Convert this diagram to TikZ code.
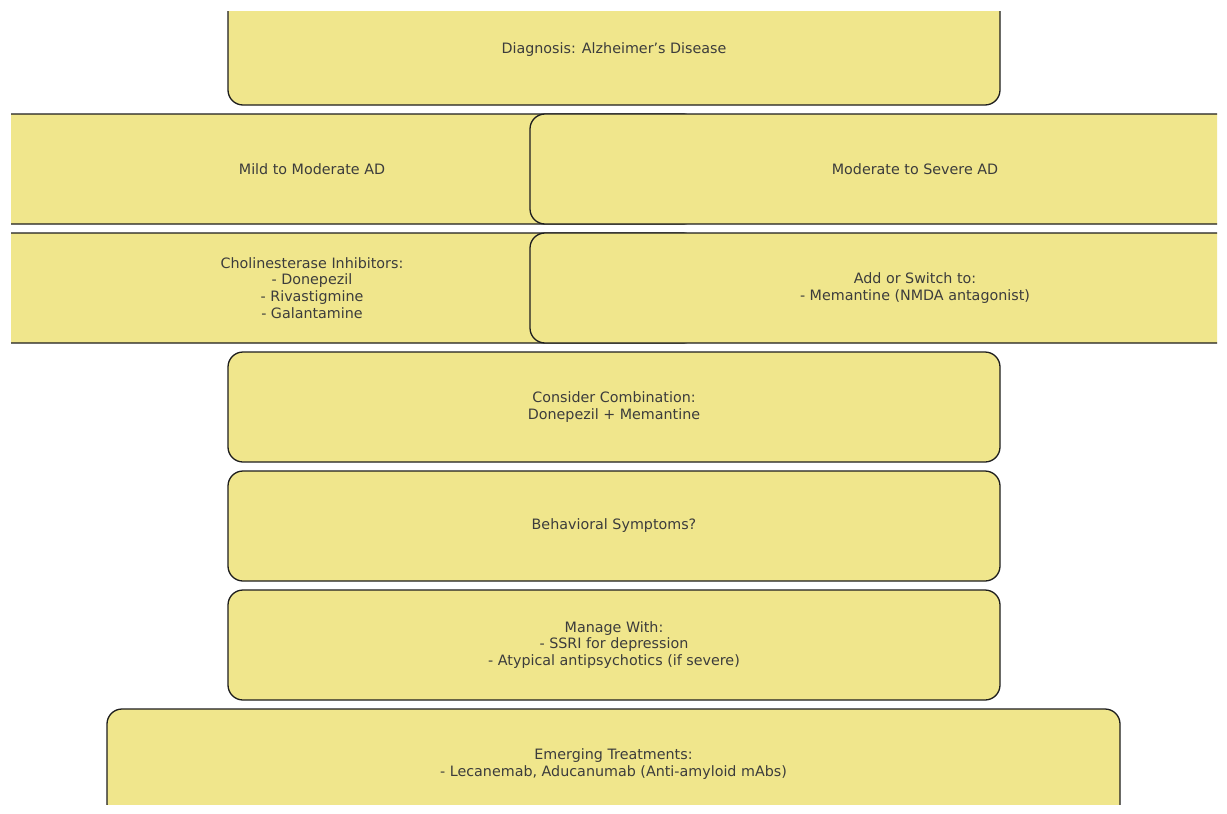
\documentclass[tikz,border=0pt]{standalone}
\usepackage{fontspec}
\setmainfont{DejaVu Sans}
\definecolor{boxfill}{HTML}{F0E68C}
\definecolor{txt}{HTML}{3C3C3C}
\definecolor{edge}{HTML}{1E1E1E}
\tikzset{
  flowbox/.style={draw=edge, fill=boxfill, line width=1.3pt, rounded corners=15pt,
    minimum height=110pt, inner sep=0pt, align=center, text=txt,
    font=\fontsize{14.3}{16.7}\selectfont},
}
\begin{document}
\begin{tikzpicture}[x=1pt,y=-1pt]
\useasboundingbox (0,0) rectangle (1227,814);
\fill[white] (0,0) rectangle (1227,814);
\begin{scope}
\clip (11,11) rectangle (1217,804);
\node[flowbox, minimum width=772pt] (diag) at (614,50) {Diagnosis: Alzheimer’s Disease};
\node[flowbox, minimum width=772pt] (mild) at (312,169) {Mild to Moderate AD};
\node[flowbox, minimum width=770pt] (severe) at (915,169) {Moderate to Severe AD};
\node[flowbox, minimum width=772pt] (chol) at (312,288) {Cholinesterase Inhibitors:\\- Donepezil\\- Rivastigmine\\- Galantamine};
\node[flowbox, minimum width=770pt] (mem) at (915,288) {Add or Switch to:\\- Memantine (NMDA antagonist)};
\node[flowbox, minimum width=772pt] (comb) at (614,407) {Consider Combination:\\Donepezil + Memantine};
\node[flowbox, minimum width=772pt] (behav) at (614,526) {Behavioral Symptoms?};
\node[flowbox, minimum width=772pt] (manage) at (614,645) {Manage With:\\- SSRI for depression\\- Atypical antipsychotics (if severe)};
\node[flowbox, minimum width=1013pt] (emerg) at (613.5,764) {Emerging Treatments:\\- Lecanemab, Aducanumab (Anti-amyloid mAbs)};
\end{scope}
\end{tikzpicture}
\end{document}
